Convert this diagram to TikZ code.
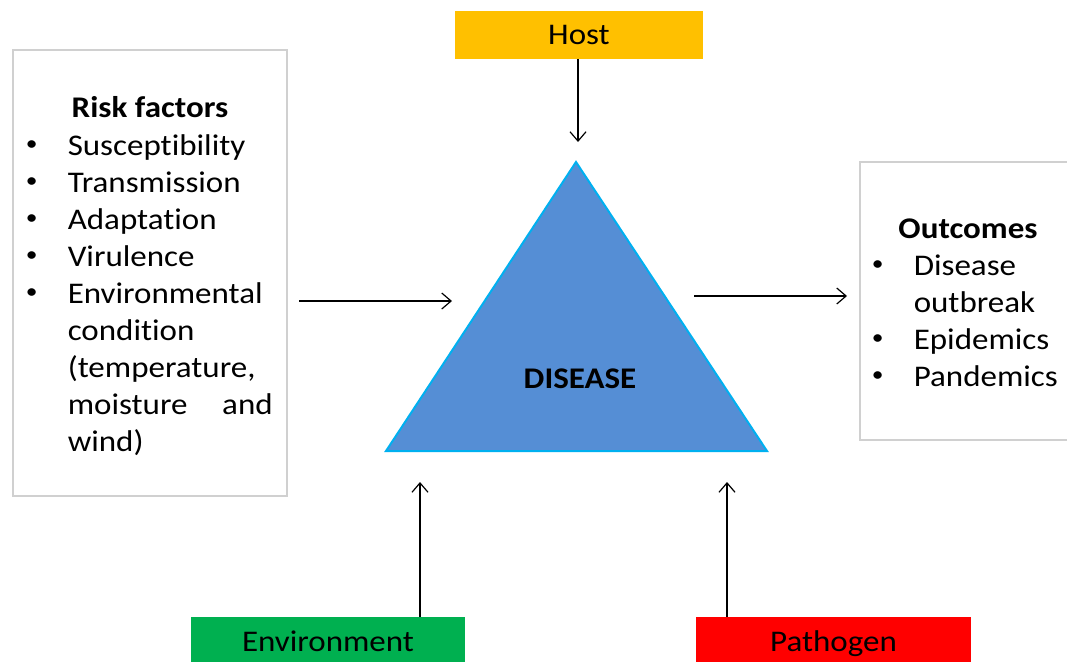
\documentclass[tikz,border=0pt]{standalone}
\usepackage{fontspec}
\setmainfont[FakeStretch=1.1,Ligatures=NoCommon]{Carlito}
\usetikzlibrary{arrows.meta}
\definecolor{hostc}{HTML}{FFC000}
\definecolor{envc}{HTML}{00B050}
\definecolor{pathc}{HTML}{FF0000}
\definecolor{trifill}{HTML}{558ED5}
\definecolor{triline}{HTML}{00B0F0}
\definecolor{boxline}{HTML}{D0D0D0}
\newcommand\lf{\fontsize{22.5}{27.75}\selectfont}
\newcommand\bul{\makebox[30.75pt][l]{\makebox[7.5pt]{\raisebox{3.2pt}{\fontsize{16}{16}\selectfont •}}}}
\newcommand\ind{\hspace*{30.75pt}}
\begin{document}
\begin{tikzpicture}[x=0.75pt,y=-0.75pt,
  label box/.style={inner sep=0pt, minimum height=36pt, text height=14.5pt, text depth=0pt, font=\lf},
  frame box/.style={draw=boxline, line width=1.8pt, inner sep=0pt, fill=white},
  arr/.style={line width=0.9pt, -{Straight Barb[length=7pt,width=12pt,line width=0.9pt]}},
  txt/.style={inner sep=0pt, font=\lf, anchor=base west}
]
\useasboundingbox (0,0) rectangle (1067,661);

% frames
\node[frame box, minimum width=205.5pt, minimum height=334.5pt] (riskbox) at (150,273) {};
\node[frame box, minimum width=161.25pt, minimum height=208.5pt] (outbox) at (967.5,301) {};

% coloured labels
\node[label box, fill=hostc, minimum width=186pt] (host) at (579,35) {Host};
\node[label box, fill=envc, minimum width=205.5pt, minimum height=37.5pt] (env) at (328,642) {Environment};
\node[label box, fill=pathc, minimum width=206.25pt, minimum height=37.5pt] (path) at (833.5,642) {Pathogen};

% triangle
\coordinate (apex) at (576,162);
\coordinate (bl) at (386,451);
\coordinate (br) at (767,451);
\draw[fill=trifill, draw=triline, line width=1.5pt, line join=miter] (apex) -- (br) -- (bl) -- cycle;
\node[inner sep=0pt, font=\lf\bfseries, text height=14.5pt, text depth=0pt] (disease) at (580,379) {DISEASE};

% risk factors text
\node[txt, anchor=base, font=\lf\bfseries] (risktitle) at (150,117) {Risk factors};
\node[txt] (risklist) at (26.5,155) {\begin{tabular}[t]{@{}l@{}}
\bul Susceptibility\\
\bul Transmission\\
\bul Adaptation\\
\bul Virulence\\
\bul Environmental\\
\ind condition\\
\ind (temperature,\\
\ind \makebox[153.75pt]{moisture\hfill and}\\
\ind wind)
\end{tabular}};

% outcomes text
\node[txt, anchor=base, font=\lf\bfseries] (outtitle) at (968,238) {Outcomes};
\node[txt] (outlist) at (872.5,275) {\begin{tabular}[t]{@{}l@{}}
\bul Disease\\
\ind outbreak\\
\bul Epidemics\\
\bul Pandemics
\end{tabular}};

% connectors
\coordinate (hosttip) at (578,142);
\draw[arr] (host.south -| hosttip) -- (hosttip);
\coordinate (lstart) at (299,301);
\coordinate (ltip) at (452,301);
\draw[arr] (lstart) -- (ltip);
\coordinate (rstart) at (694,296);
\coordinate (rtip) at (847,296);
\draw[arr] (rstart) -- (rtip);
\coordinate (envtip) at (420,482);
\draw[arr] (env.north -| envtip) -- (envtip);
\coordinate (pathtip) at (727,482);
\draw[arr] (path.north -| pathtip) -- (pathtip);
\end{tikzpicture}
\end{document}
